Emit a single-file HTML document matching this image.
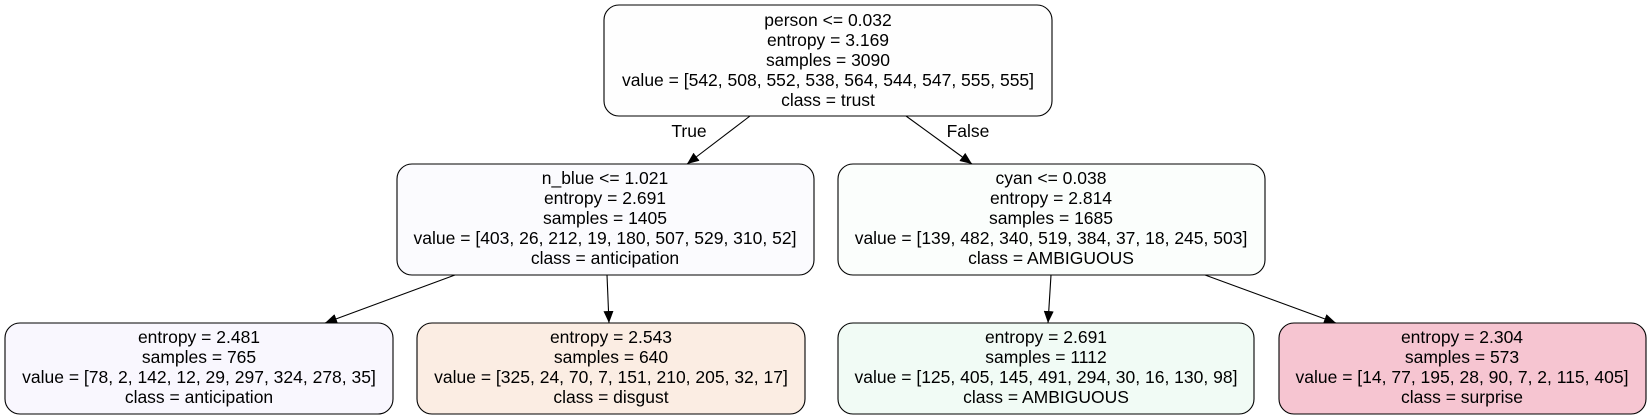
<!DOCTYPE html>
<html><head><meta charset="utf-8"><style>
html,body{margin:0;padding:0;background:#fff;width:1649px;height:419px;overflow:hidden}
text{font-family:"Liberation Sans",sans-serif;font-size:17.5px;fill:#000;text-anchor:middle}
</style></head><body>
<svg width="1649" height="419" viewBox="0 0 1649 419">
<defs><marker id="ah" markerWidth="12" markerHeight="10" refX="12" refY="5" orient="auto" markerUnits="userSpaceOnUse"><path d="M0,0 L12,5 L0,10z" fill="#000"/></marker></defs>
<g stroke="#000" stroke-width="1.1" fill="none">
<line x1="750" y1="116" x2="687" y2="164" marker-end="url(#ah)"/>
<line x1="906" y1="116" x2="972" y2="164" marker-end="url(#ah)"/>
<line x1="455" y1="275" x2="325" y2="323" marker-end="url(#ah)"/>
<line x1="607" y1="275" x2="609" y2="323" marker-end="url(#ah)"/>
<line x1="1051" y1="275" x2="1048" y2="323" marker-end="url(#ah)"/>
<line x1="1205" y1="275" x2="1336" y2="323" marker-end="url(#ah)"/>
</g>
<text x="689" y="137">True</text>
<text x="968" y="137">False</text>
<g stroke="#000" stroke-width="1.1">
<rect x="604" y="5" width="448" height="111" rx="15" fill="#fefefe"/>
<rect x="397" y="164" width="417" height="111" rx="15" fill="#fbfbfe"/>
<rect x="838" y="164" width="427" height="111" rx="15" fill="#fbfefc"/>
<rect x="5" y="323" width="388" height="91" rx="15" fill="#f9f7fe"/>
<rect x="417" y="323" width="388" height="91" rx="15" fill="#fbede3"/>
<rect x="838" y="323" width="416" height="91" rx="15" fill="#f1fbf5"/>
<rect x="1279" y="323" width="367" height="91" rx="15" fill="#f6c5d1"/>
</g>
<g>
<text x="828" y="26">person &lt;= 0.032</text><text x="828" y="46">entropy = 3.169</text><text x="828" y="66">samples = 3090</text><text x="828" y="86">value = [542, 508, 552, 538, 564, 544, 547, 555, 555]</text><text x="828" y="106">class = trust</text>
</g>
<g>
<text x="605" y="184">n_blue &lt;= 1.021</text><text x="605" y="204">entropy = 2.691</text><text x="605" y="224">samples = 1405</text><text x="605" y="244">value = [403, 26, 212, 19, 180, 507, 529, 310, 52]</text><text x="605" y="264">class = anticipation</text>
</g>
<g>
<text x="1051" y="184">cyan &lt;= 0.038</text><text x="1051" y="204">entropy = 2.814</text><text x="1051" y="224">samples = 1685</text><text x="1051" y="244">value = [139, 482, 340, 519, 384, 37, 18, 245, 503]</text><text x="1051" y="264">class = AMBIGUOUS</text>
</g>
<g>
<text x="199" y="343">entropy = 2.481</text><text x="199" y="363">samples = 765</text><text x="199" y="383">value = [78, 2, 142, 12, 29, 297, 324, 278, 35]</text><text x="199" y="403">class = anticipation</text>
</g>
<g>
<text x="611" y="343">entropy = 2.543</text><text x="611" y="363">samples = 640</text><text x="611" y="383">value = [325, 24, 70, 7, 151, 210, 205, 32, 17]</text><text x="611" y="403">class = disgust</text>
</g>
<g>
<text x="1046" y="343">entropy = 2.691</text><text x="1046" y="363">samples = 1112</text><text x="1046" y="383">value = [125, 405, 145, 491, 294, 30, 16, 130, 98]</text><text x="1046" y="403">class = AMBIGUOUS</text>
</g>
<g>
<text x="1462" y="343">entropy = 2.304</text><text x="1462" y="363">samples = 573</text><text x="1462" y="383">value = [14, 77, 195, 28, 90, 7, 2, 115, 405]</text><text x="1462" y="403">class = surprise</text>
</g>
</svg>
</body></html>
